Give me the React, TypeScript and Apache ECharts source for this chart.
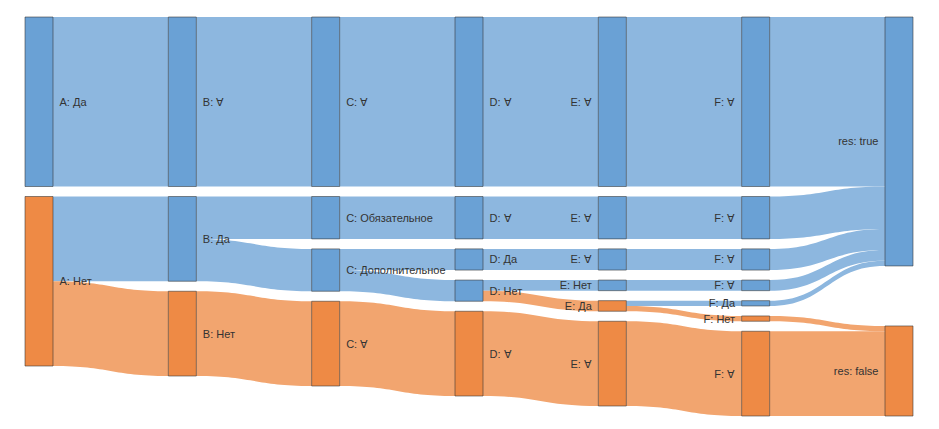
import React, { useEffect, useRef } from "react";
import * as echarts from "echarts";

// Node ids (unique) and their displayed labels
const nodeIds = [
  "A1", "A2",
  "B1", "B2", "B3",
  "C1", "C2", "C3", "C4",
  "D1", "D2", "D3", "D4", "D5",
  "E1", "E2", "E3", "E4", "E5", "E6",
  "F1", "F2", "F3", "F4", "F5", "F6", "F7",
  "R1", "R2",
];
const nodeLabels = [
  "A: Да", "A: Нет",
  "B: ∀", "B: Да", "B: Нет",
  "C: ∀", "C: Обязательное", "C: Дополнительное", "C: ∀",
  "D: ∀", "D: ∀", "D: Да", "D: Нет", "D: ∀",
  "E: ∀", "E: ∀", "E: ∀", "E: Нет", "E: Да", "E: ∀",
  "F: ∀", "F: ∀", "F: ∀", "F: ∀", "F: Да", "F: Нет", "F: ∀",
  "res: true", "res: false",
];
// Nodes that belong to the "false" branch (orange)
const falseNodes = ["A2", "B3", "C4", "D5", "E5", "E6", "F6", "F7", "R2"];
// Columns whose labels are placed on the left of the node
const leftLabelColumns = ["E", "F", "R"];
// Node that sits at the bottom of its column
const bottomNodes = ["R2"];

// Links
const linkSources = [
  "A1", "A2", "A2",
  "B1", "B2", "B2", "B3",
  "C1", "C2", "C3", "C3", "C4",
  "D1", "D2", "D3", "D4", "D4", "D5",
  "E1", "E2", "E3", "E4", "E5", "E5", "E6",
  "F1", "F2", "F3", "F4", "F5", "F6", "F7",
];
const linkTargets = [
  "B1", "B2", "B3",
  "C1", "C2", "C3", "C4",
  "D1", "D2", "D3", "D4", "D5",
  "E1", "E2", "E3", "E4", "E5", "E6",
  "F1", "F2", "F3", "F4", "F5", "F6", "F7",
  "R1", "R1", "R1", "R1", "R1", "R2", "R2",
];
const linkValues = [
  160, 80, 80,
  160, 40, 40, 80,
  160, 40, 20, 20, 80,
  160, 40, 20, 10, 10, 80,
  160, 40, 20, 10, 5, 5, 80,
  160, 40, 20, 10, 5, 5, 80,
];

const BLUE_NODE = "#6aa1d5";
const BLUE_LINK = "#8db7df";
const ORANGE_NODE = "#ee8a45";
const ORANGE_LINK = "#f2a56f";

const W = 939;
const H = 429;
const TOP = 17;
const BOTTOM = 13;
const GAP = 10;

export default function App() {
  const ref = useRef<HTMLDivElement>(null);

  useEffect(() => {
    document.body.style.margin = "0";
    if (!ref.current) return;
    const chart = echarts.init(ref.current, undefined, { renderer: "svg" });

    const isFalse = (id: string) => falseNodes.includes(id);

    // node values = max(in, out)
    const nodeValue = (id: string) => {
      let inV = 0;
      let outV = 0;
      linkValues.forEach((v, i) => {
        if (linkTargets[i] === id) inV += v;
        if (linkSources[i] === id) outV += v;
      });
      return Math.max(inV, outV);
    };
    // same scale ECharts uses: min over columns of (h - (n-1)gap)/sum
    const layoutH = H - TOP - BOTTOM;
    const columns: Record<string, string[]> = {};
    nodeIds.forEach((id) => {
      (columns[id[0]] = columns[id[0]] || []).push(id);
    });
    let ky = Infinity;
    Object.values(columns).forEach((ids) => {
      const sum = ids.reduce((a, id) => a + nodeValue(id), 0);
      ky = Math.min(ky, (layoutH - (ids.length - 1) * GAP) / sum);
    });

    const data = nodeIds.map((id, i) => {
      const item: any = {
        name: id,
        itemStyle: {
          color: isFalse(id) ? ORANGE_NODE : BLUE_NODE,
          borderColor: "rgba(50,50,50,0.55)",
          borderWidth: 1,
        },
        label: {
          position: leftLabelColumns.includes(id[0]) ? "left" : "right",
          formatter: () => nodeLabels[i],
        },
      };
      if (bottomNodes.includes(id)) {
        item.localY = 1 - (nodeValue(id) * ky) / layoutH;
      }
      return item;
    });

    const links = linkSources.map((s, i) => ({
      source: s,
      target: linkTargets[i],
      value: linkValues[i],
      lineStyle: {
        color: isFalse(linkTargets[i]) ? ORANGE_LINK : BLUE_LINK,
        opacity: 1,
      },
    }));

    chart.setOption({
      animation: false,
      tooltip: { show: false },
      series: [
        {
          type: "sankey",
          left: 25,
          right: 26,
          top: TOP,
          bottom: BOTTOM,
          nodeWidth: 28,
          nodeGap: GAP,
          nodeAlign: "justify",
          layoutIterations: 0,
          draggable: false,
          emphasis: { disabled: true },
          data,
          links,
          label: {
            show: true,
            fontFamily: "Liberation Sans, Arial, sans-serif",
            fontSize: 11,
            color: "#333",
            distance: 6,
          },
          lineStyle: { curveness: 0.5 },
        },
      ],
    });

    return () => chart.dispose();
  }, []);

  return <div ref={ref} style={{ width: W, height: H }} />;
}
